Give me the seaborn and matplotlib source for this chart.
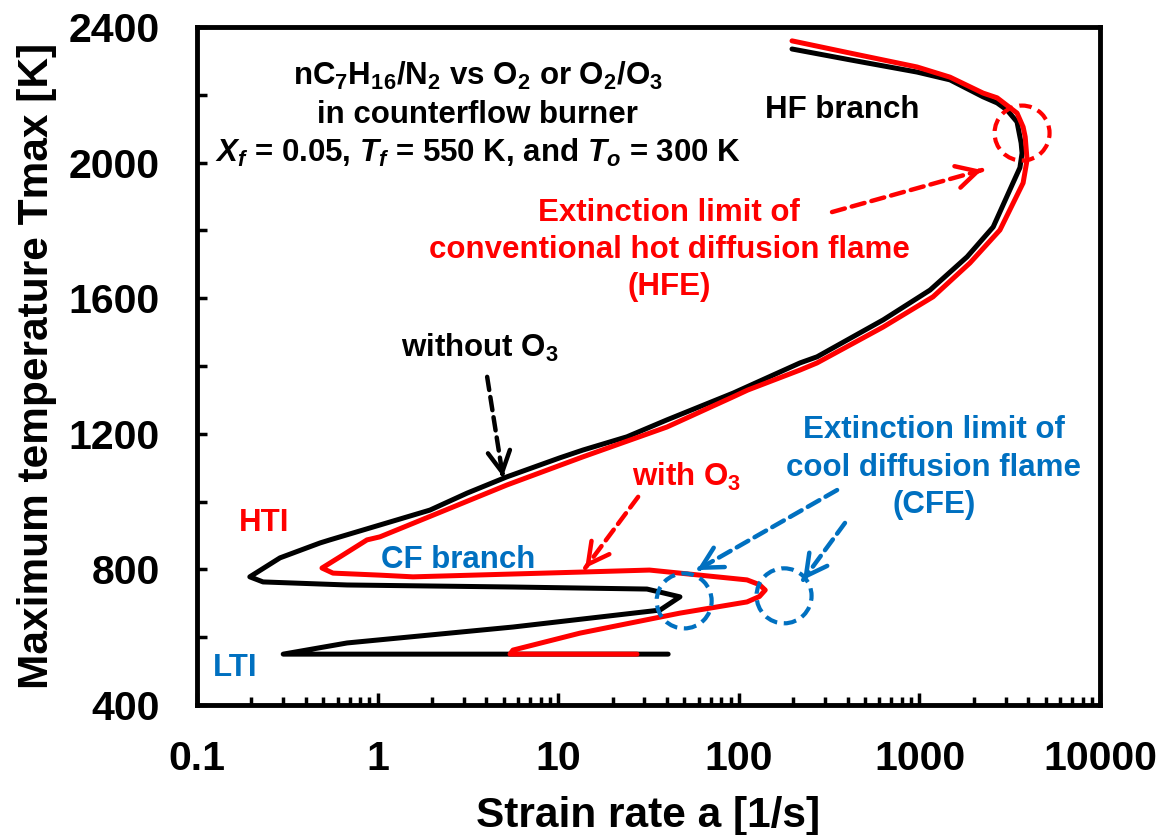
import numpy as np
import matplotlib
matplotlib.use('Agg')
import matplotlib.pyplot as plt
import matplotlib.ticker as mticker
import matplotlib.transforms as mtransforms
from matplotlib.patches import Circle
import seaborn as sns

# strain rate a [1/s] and Tmax [K] along each S-curve
black_a = [197, 413, 970, 1476, 2250, 2692, 3055, 3470, 3656, 3700, 3600, 3296, 2560,
           1836, 1145, 630, 271, 218, 93, 40, 24, 13.7, 10.2, 5.2, 3.13, 1.95, 0.544,
           0.48, 0.288, 0.196, 0.232, 0.678, 5.62, 31, 47.2, 36.6, 5.62, 0.678, 0.30, 40.6]
black_T = [2335, 2303, 2267, 2244, 2194, 2176, 2155, 2120, 2058, 2028, 1985, 1940, 1810,
           1722, 1624, 1536, 1427, 1409, 1320, 1241, 1191, 1152, 1129, 1073, 1025, 975, 887,
           878, 834, 778, 763, 754, 748, 742, 719, 680, 630, 583, 550, 550]

red_a = [197, 413, 970, 1476, 2250, 2692, 3470, 3750, 3850, 3944, 3750, 2790, 1905,
         1189, 630, 271, 218, 112, 93, 40, 13.7, 5.2, 2.97, 1.03, 0.873, 0.619, 0.492, 0.566,
         1.03, 1.57, 13.2, 32, 111, 130, 140, 130, 111, 47.2, 13.2, 5.62, 5.41, 27.3]
red_T = [2359, 2323, 2282, 2252, 2205, 2191, 2146, 2105, 2076, 2008, 1940, 1801, 1704,
         1604, 1515, 1409, 1388, 1329, 1309, 1220, 1132, 1049, 996, 896, 887, 837, 804, 789,
         783, 778, 792, 798, 769, 755, 739, 720, 704, 671, 612, 562, 550, 550]

# extinction points marked with dashed circles
hfe_circle = (3700, 2087)
cfe_circles = [(49.8, 707), (178, 722)]

BLUE = '#0070C0'
RED = '#FF0000'

sns.set_theme(style='white')
plt.rcParams['font.family'] = ['Liberation Sans', 'DejaVu Sans']
plt.rcParams['font.weight'] = 'bold'
plt.rcParams['text.color'] = 'black'
plt.rcParams['axes.labelcolor'] = 'black'
plt.rcParams['xtick.color'] = 'black'
plt.rcParams['ytick.color'] = 'black'
plt.rcParams['mathtext.fontset'] = 'custom'
plt.rcParams['mathtext.rm'] = 'Liberation Sans:bold'
plt.rcParams['mathtext.it'] = 'Liberation Sans:bold:italic'
plt.rcParams['mathtext.bf'] = 'Liberation Sans:bold'

fig = plt.figure(figsize=(11.61, 8.35), dpi=100)
ax = fig.add_axes([0.1697, 0.1557, 0.7778, 0.8120])
ax.set_xscale('log')
ax.set_xlim(0.1, 10000)
ax.set_ylim(400, 2400)

sns.lineplot(x=black_a, y=black_T, sort=False, estimator=None, color='black',
             lw=3.6, ax=ax, solid_capstyle='round', solid_joinstyle='round')
sns.lineplot(x=red_a, y=red_T, sort=False, estimator=None, color=RED,
             lw=3.6, ax=ax, solid_capstyle='round', solid_joinstyle='round')

# axes styling
for sp in ax.spines.values():
    sp.set_linewidth(3.5)
    sp.set_color('black')
    sp.set_visible(True)

ax.xaxis.set_major_locator(mticker.LogLocator(base=10, numticks=10))
ax.xaxis.set_minor_locator(mticker.LogLocator(base=10, subs=np.arange(2, 10), numticks=10))
ax.xaxis.set_major_formatter(mticker.FuncFormatter(lambda v, p: f'{v:g}'))
ax.xaxis.set_minor_formatter(mticker.NullFormatter())
ax.yaxis.set_major_locator(mticker.MultipleLocator(400))
ax.yaxis.set_minor_locator(mticker.MultipleLocator(200))

ax.tick_params(axis='x', which='major', direction='in', length=9, width=2.5,
               labelsize=29.5, pad=25, bottom=True, top=False)
ax.tick_params(axis='x', which='minor', direction='in', length=6, width=2.5,
               bottom=True, top=False)
ax.tick_params(axis='y', which='both', direction='in', length=7, width=2.5,
               left=True, right=False)
ax.tick_params(axis='y', which='major', labelsize=29.5, pad=27)
for lab in ax.get_xticklabels() + ax.get_yticklabels():
    lab.set_fontweight('bold')

ax.set_xlabel('Strain rate a [1/s]', fontsize=30.5, fontweight='bold')
ax.set_ylabel('Maximum temperature Tmax [K]', fontsize=30.5, fontweight='bold')
ax.xaxis.set_label_coords(0.5, -0.134)
ax.yaxis.set_label_coords(-0.155, 0.5)
ax.grid(False)

# dashed circles around extinction points
def dashed_circle(center, color):
    tr = fig.dpi_scale_trans + mtransforms.ScaledTranslation(center[0], center[1], ax.transData)
    c = Circle((0, 0), radius=0.275, transform=tr, fill=False, ec=color, lw=3,
               ls=(0, (3, 1.6)), zorder=5)
    ax.add_patch(c)

dashed_circle(hfe_circle, RED)
for c in cfe_circles:
    dashed_circle(c, BLUE)

# dashed arrows with open heads
def dashed_arrow(start, tip, color):
    ax.annotate('', xy=tip, xytext=start,
                arrowprops=dict(arrowstyle='-', color=color, lw=3.2,
                                ls=(0, (3, 1.6)), shrinkA=0, shrinkB=0))
    p0 = ax.transData.transform(start)
    p1 = ax.transData.transform(tip)
    d = (p0 - p1) / np.hypot(*(p0 - p1))
    ax.annotate('', xy=tip, xytext=(d[0] * 2, d[1] * 2), textcoords='offset points',
                arrowprops=dict(arrowstyle='->,head_length=0.75,head_width=0.4',
                                color=color, lw=3.2, mutation_scale=20,
                                shrinkA=0, shrinkB=0))

dashed_arrow((328, 1854), (2222, 1978), RED)
dashed_arrow((4.04, 1368), (4.94, 1073), 'black')
dashed_arrow((27.7, 1014), (14.1, 804), RED)
dashed_arrow((350, 1034), (58.7, 798), BLUE)
dashed_arrow((387, 937), (227, 769), BLUE)

# text annotations
tk = dict(transform=ax.transAxes, ha='center', va='center', fontweight='bold')
fs = 22.5
ax.text(0.311, 0.928, r'nC$_7$H$_{16}$/N$_2$ vs O$_2$ or O$_2$/O$_3$', fontsize=fs, color='black', **tk)
ax.text(0.311, 0.870, 'in counterflow burner', fontsize=fs, color='black', **tk)
ax.text(0.311, 0.814, r'$X_f$ = 0.05, $T_f$ = 550 K, and $T_o$ = 300 K', fontsize=fs, color='black', **tk)
ax.text(0.714, 0.878, 'HF branch', fontsize=fs, color='black', **tk)
ax.text(0.523, 0.726, 'Extinction limit of', fontsize=fs, color=RED, **tk)
ax.text(0.523, 0.671, 'conventional hot diffusion flame', fontsize=fs, color=RED, **tk)
ax.text(0.523, 0.617, '(HFE)', fontsize=fs, color=RED, **tk)
ax.text(0.313, 0.527, r'without O$_3$', fontsize=fs, color='black', **tk)
ax.text(0.542, 0.336, r'with O$_3$', fontsize=fs, color=RED, **tk)
ax.text(0.074, 0.268, 'HTI', fontsize=fs, color=RED, **tk)
ax.text(0.289, 0.214, 'CF branch', fontsize=fs, color=BLUE, **tk)
ax.text(0.042, 0.055, 'LTI', fontsize=fs, color=BLUE, **tk)
ax.text(0.816, 0.406, 'Extinction limit of', fontsize=fs, color=BLUE, **tk)
ax.text(0.816, 0.350, 'cool diffusion flame', fontsize=fs, color=BLUE, **tk)
ax.text(0.816, 0.295, '(CFE)', fontsize=fs, color=BLUE, **tk)

fig.savefig('out.png', dpi=100)
